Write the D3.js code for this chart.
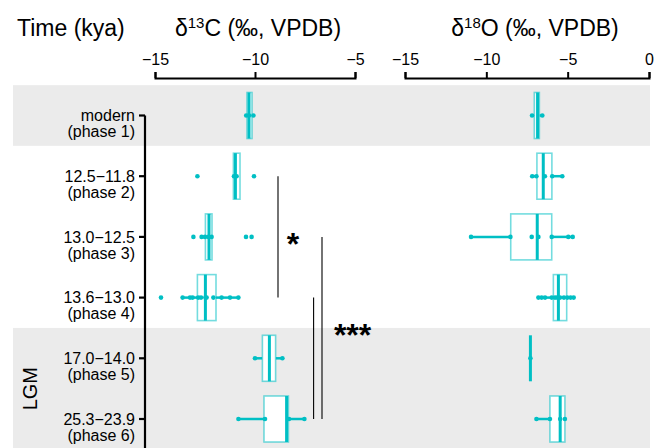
<!DOCTYPE html>
<html>
<head>
<meta charset="utf-8">
<script src="https://cdnjs.cloudflare.com/ajax/libs/d3/7.8.5/d3.min.js"></script>
<style>
body { margin: 0; background: #fff; }
text { font-family: "Liberation Sans", Arial, sans-serif; fill: #000; }
</style>
</head>
<body>
<script>
// rows, top to bottom
var periods = ["modern", "12.5\u221211.8", "13.0\u221212.5", "13.6\u221213.0", "17.0\u221214.0", "25.3\u221223.9"];
var phases = ["(phase 1)", "(phase 2)", "(phase 3)", "(phase 4)", "(phase 5)", "(phase 6)"];

// d13C box stats (whisker low, q1, median, q3, whisker high)
var c13Low  = [-10.44, -11.08, -12.67, -13.62, -10.0, -10.83];
var c13Q1   = [-10.40, -11.08, -12.48, -12.88, -9.63, -9.55];
var c13Med  = [-10.30, -10.98, -12.30, -12.48, -9.28, -8.42];
var c13Q3   = [-10.15, -10.75, -12.15, -11.95, -8.97, -8.33];
var c13High = [-10.08, -10.75, -12.15, -10.83, -8.63, -7.53];
var c13Points = [
  [-10.44, -10.30, -10.08],
  [-12.88, -11.05, -10.92, -10.05],
  [-13.08, -12.67, -12.50, -12.33, -12.17, -10.45, -10.17],
  [-14.70, -13.62, -13.25, -13.12, -12.84, -12.70, -12.48, -12.42, -12.08, -11.67, -11.25, -10.83],
  [-10.0, -8.63],
  [-10.83, -9.50, -8.30, -7.53]
];

// d18O box stats
var o18Low  = [-7.19, -7.18, -10.94, -6.80, -7.29, -6.92];
var o18Q1   = [-7.05, -6.89, -8.50, -5.88, -7.29, -6.09];
var o18Med  = [-6.85, -6.50, -6.87, -5.57, -7.29, -5.46];
var o18Q3   = [-6.74, -5.97, -5.98, -5.06, -7.29, -5.17];
var o18High = [-6.56, -5.33, -4.69, -4.63, -7.29, -5.17];
var o18Points = [
  [-7.19, -6.56],
  [-7.18, -6.92, -6.40, -5.95, -5.33],
  [-10.94, -8.52, -7.21, -6.80, -5.98, -4.96, -4.69],
  [-6.80, -6.60, -6.39, -5.98, -5.78, -5.64, -5.47, -5.23, -5.02, -4.82, -4.63],
  [-7.29],
  [-6.92, -6.09, -5.46, -5.17]
];

var c13Ticks = [-15, -10, -5];
var o18Ticks = [-15, -10, -5, 0];

// significance brackets on the d13C panel
var sigX = [-8.85, -7.07, -6.65];
var sigFrom = [1, 3, 2];
var sigTo = [3, 5, 5];
var sigText = ["*", "***"];
var sigTextX = [-8.1, -5.12];
var sigTextRows = [[1, 3], [2, 5]];

// shaded groups (row ranges)
var shadeRows = [[0, 0], [4, 5]];

var width = 665, height = 448;
var teal = "#00BFC4";

var svg = d3.select("body").append("svg")
    .attr("width", width)
    .attr("height", height);

var y = d3.scalePoint()
    .domain(d3.range(periods.length))
    .range([115.5, 419]);
var step = y.step();
var halfBox = 23;

var xC = d3.scaleLinear().domain([-15, -5]).range([155, 355]);
var xO = d3.scaleLinear().domain([-15, 0]).range([405, 649]);

// grey bands
svg.selectAll("rect.band")
    .data(shadeRows)
    .enter().append("rect")
    .attr("class", "band")
    .attr("x", 13)
    .attr("width", 650 - 13)
    .attr("y", function(d) { return y(d[0]) - step / 2; })
    .attr("height", function(d) { return y(d[1]) - y(d[0]) + step; })
    .attr("fill", "#EBEBEB");

// top axes
function topAxis(x, ticks) {
  var g = svg.append("g")
      .attr("transform", "translate(0,78)")
      .call(d3.axisTop(x).tickValues(ticks).tickSize(6).tickPadding(7));
  g.select(".domain").attr("stroke-width", 2);
  g.selectAll(".tick line").attr("stroke-width", 2);
  g.selectAll(".tick text")
      .style("font-size", "16px")
      .style("font-family", "'Liberation Sans', Arial, sans-serif");
}
topAxis(xC, c13Ticks);
topAxis(xO, o18Ticks);

// left axis
svg.append("line")
    .attr("x1", 145).attr("x2", 145)
    .attr("y1", y(0)).attr("y2", height)
    .attr("stroke", "#000").attr("stroke-width", 2.2);

var rows = svg.selectAll("g.row")
    .data(periods)
    .enter().append("g")
    .attr("class", "row")
    .attr("transform", function(d, i) { return "translate(0," + y(i) + ")"; });

rows.append("line")
    .attr("x1", 139).attr("x2", 145)
    .attr("stroke", "#000").attr("stroke-width", 2.2);

var lbl = rows.append("text")
    .attr("text-anchor", "end")
    .style("font-size", "16px");
lbl.append("tspan").attr("x", 135).attr("y", 5.7).text(function(d) { return d; });
lbl.append("tspan").attr("x", 135).attr("y", 21.7).text(function(d, i) { return phases[i]; });

// boxplots
function drawBoxes(x, lo, q1, med, q3, hi, pts) {
  var g = svg.append("g");
  var b = g.selectAll("g")
      .data(periods)
      .enter().append("g")
      .attr("transform", function(d, i) { return "translate(0," + y(i) + ")"; });

  b.append("line")
      .attr("x1", function(d, i) { return x(lo[i]); })
      .attr("x2", function(d, i) { return x(q1[i]); })
      .attr("stroke", teal).attr("stroke-width", 2.5);
  b.append("line")
      .attr("x1", function(d, i) { return x(q3[i]); })
      .attr("x2", function(d, i) { return x(hi[i]); })
      .attr("stroke", teal).attr("stroke-width", 2.5);

  b.append("rect")
      .attr("x", function(d, i) { return x(q1[i]); })
      .attr("width", function(d, i) { return x(q3[i]) - x(q1[i]); })
      .attr("y", -halfBox)
      .attr("height", halfBox * 2)
      .attr("fill", "#fff")
      .attr("stroke", teal)
      .attr("stroke-opacity", 0.55)
      .attr("stroke-width", 1.6);

  b.append("line")
      .attr("x1", function(d, i) { return x(med[i]); })
      .attr("x2", function(d, i) { return x(med[i]); })
      .attr("y1", -halfBox).attr("y2", halfBox)
      .attr("stroke", teal).attr("stroke-width", 3);

  b.selectAll("circle")
      .data(function(d, i) { return pts[i]; })
      .enter().append("circle")
      .attr("cx", function(v) { return x(v); })
      .attr("cy", 0)
      .attr("r", 2.3)
      .attr("fill", teal);
}
drawBoxes(xC, c13Low, c13Q1, c13Med, c13Q3, c13High, c13Points);
drawBoxes(xO, o18Low, o18Q1, o18Med, o18Q3, o18High, o18Points);

// significance lines
svg.selectAll("line.sig")
    .data(sigX)
    .enter().append("line")
    .attr("class", "sig")
    .attr("x1", function(d) { return xC(d); })
    .attr("x2", function(d) { return xC(d); })
    .attr("y1", function(d, i) { return y(sigFrom[i]); })
    .attr("y2", function(d, i) { return y(sigTo[i]); })
    .attr("stroke", "#000").attr("stroke-width", 1.1);

svg.selectAll("text.sig")
    .data(sigText)
    .enter().append("text")
    .attr("class", "sig")
    .attr("text-anchor", "middle")
    .attr("x", function(d, i) { return xC(sigTextX[i]); })
    .attr("y", function(d, i) { return (y(sigTextRows[i][0]) + y(sigTextRows[i][1])) / 2 + 18; })
    .style("font-size", "32px")
    .style("font-weight", "bold")
    .text(function(d) { return d; });

// titles
svg.append("text")
    .attr("x", 17).attr("y", 36)
    .style("font-size", "23px")
    .text("Time (kya)");

function title(cx, iso, el) {
  var t = svg.append("text")
      .attr("x", cx).attr("y", 36)
      .attr("text-anchor", "middle")
      .style("font-size", "23px");
  t.append("tspan").text("\u03B4");
  t.append("tspan").attr("dy", -8).style("font-size", "15px").text(iso);
  t.append("tspan").attr("dy", 8).text(el + " (\u2030, VPDB)");
}
title(258, "13", "C");
title(535, "18", "O");

svg.append("text")
    .attr("transform", "translate(37," + ((y(4) + y(5)) / 2) + ") rotate(-90)")
    .attr("text-anchor", "middle")
    .style("font-size", "20px")
    .text("LGM");
</script>
</body>
</html>
